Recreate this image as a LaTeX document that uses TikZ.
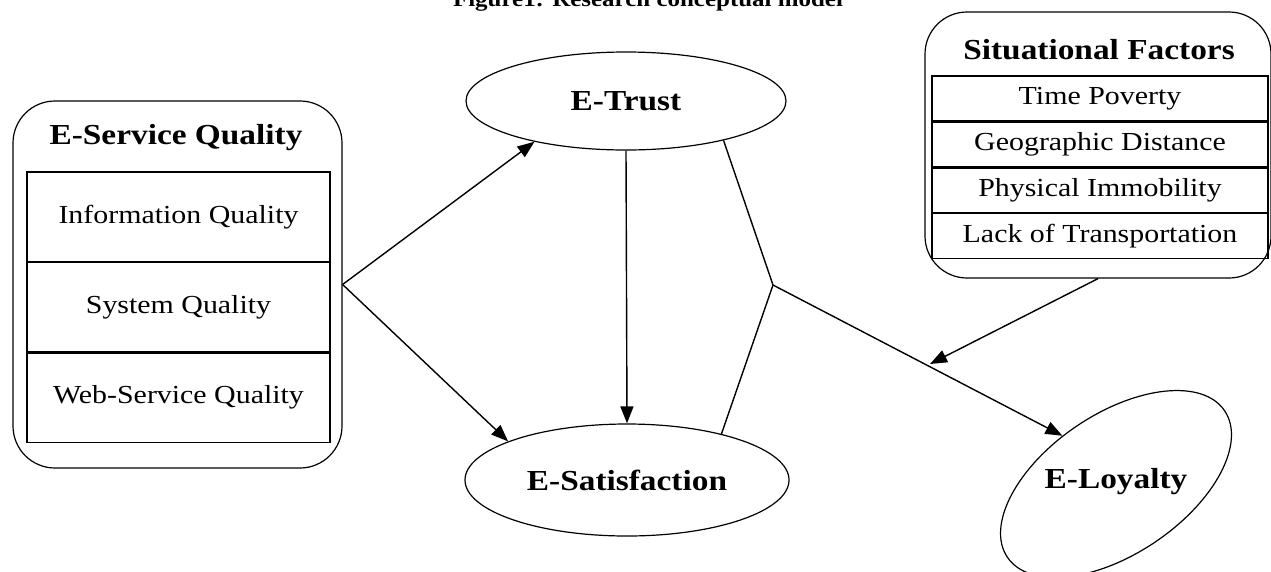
\documentclass[tikz,border=0pt]{standalone}
\usepackage{fontspec}
\setmainfont{Liberation Serif}[FakeStretch=1.15]
\usetikzlibrary{arrows.meta, shapes.geometric, positioning}

\begin{document}
\begin{tikzpicture}[
  x=1pt, y=-1pt,
  group/.style={
    rectangle, rounded corners=42pt,
    draw, line width=1.2pt, inner sep=0pt
  },
  cell/.style={
    rectangle, draw, line width=1.2pt, inner sep=0pt,
    font=\fontsize{26}{31}\selectfont
  },
  lcell/.style={cell, minimum width=303pt, minimum height=89.3pt},
  scell/.style={cell, minimum width=336pt, minimum height=44.75pt},
  head/.style={font=\fontsize{29}{35}\selectfont\bfseries},
  latent/.style={
    ellipse, draw, line width=1.2pt, inner sep=0pt,
    font=\fontsize{29}{35}\selectfont\bfseries
  },
  arr/.style={-{Triangle[length=17pt, width=13pt]}, line width=1.4pt},
  link/.style={line width=1.4pt}
]
  \useasboundingbox (0,0) rectangle (1271,571);

  % caption, cut by the top edge
  \node[font=\fontsize{21.7}{26}\selectfont\bfseries, anchor=base] (title)
    at (648,6.5) {Figure1: Research conceptual model};

  % E-Service Quality
  \node[group, minimum width=329pt, minimum height=367pt] (esq) at (177.5,284.5) {};
  \node[head] (esqhead) at (176,138) {E-Service Quality};
  \node[lcell] (iq) at (178.5,216.7) {Information Quality};
  \node[lcell, below=0pt of iq] (sq) {System Quality};
  \node[lcell, below=0pt of sq] (wq) {Web-Service Quality};

  % Situational Factors
  \node[group, minimum width=346pt, minimum height=266pt] (sitf) at (1098,145) {};
  \node[head] (sitfhead) at (1099,50) {Situational Factors};
  \node[scell] (tp) at (1100,98.4) {Time Poverty};
  \node[scell, below=0pt of tp] (gd) {Geographic Distance};
  \node[scell, below=0pt of gd] (pim) {Physical Immobility};
  \node[scell, below=0pt of pim] (lt) {Lack of Transportation};

  % constructs
  \node[latent, minimum width=320pt, minimum height=98pt] (etrust) at (626,101) {E-Trust};
  \node[latent, minimum width=324pt, minimum height=112pt] (esat) at (627,480) {E-Satisfaction};
  \node[latent, rotate=34, minimum width=262pt, minimum height=140pt] (eloy) at (1116,484) {};
  \node[head] (eloytext) at (1116,482) {E-Loyalty};

  % paths
  \coordinate (junc) at (773,285);
  \coordinate (mod) at (930,364);
  \draw[arr] (esq.east) -- (etrust.204);
  \draw[arr] (esq.east) -- (esat.162);
  \draw[arr] (etrust.south) -- (esat.north);
  \draw[link] (etrust.338) -- (junc) -- (esat.26);
  \draw[arr] (junc) -- (eloy.104);
  \draw[arr] (sitf.south) -- (mod);
\end{tikzpicture}
\end{document}
